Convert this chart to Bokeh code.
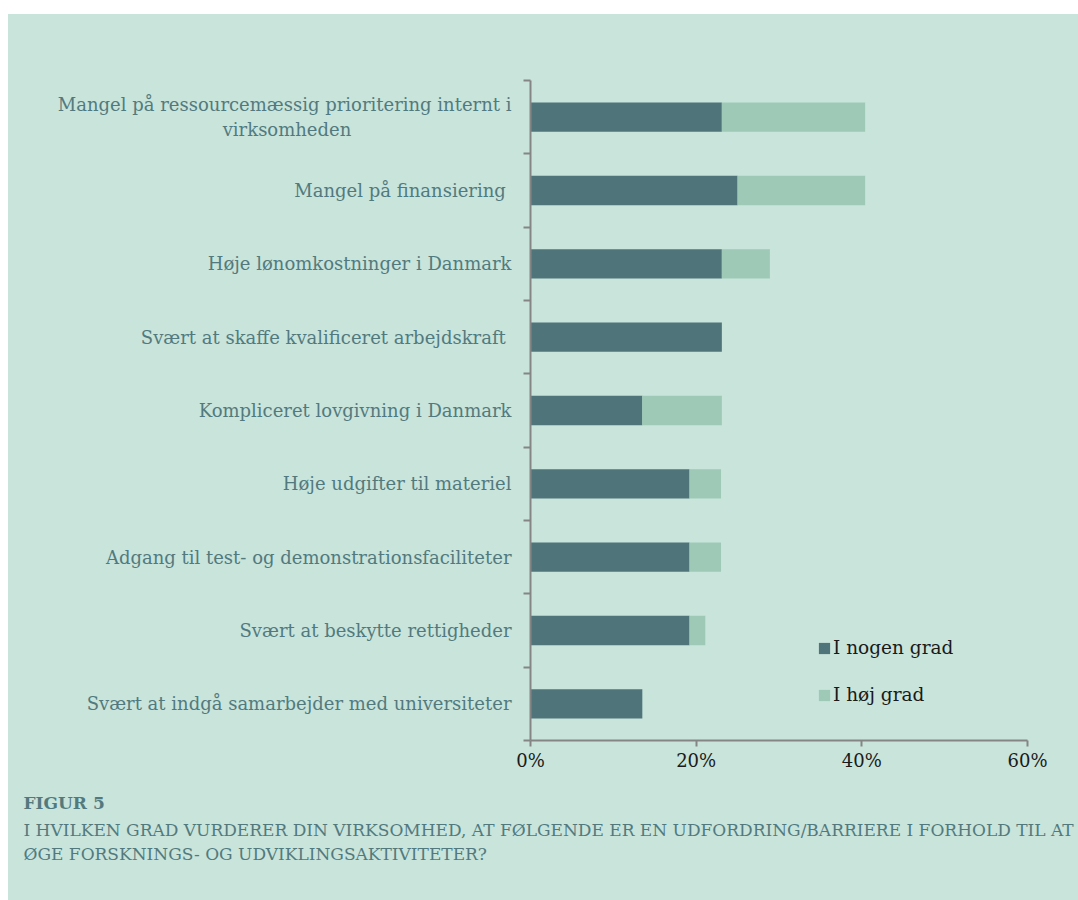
from bokeh.plotting import figure
from bokeh.models import (FixedTicker, PrintfTickFormatter, Legend, LegendItem, Title,
                          Spacer, ColumnDataSource, Range1d)
from bokeh.layouts import column, row
from bokeh.embed import file_html
from bokeh.resources import INLINE

# ---- data ----
categories = [
    "Mangel på ressourcemæssig prioritering internt i\nvirksomheden",
    "Mangel på finansiering ",
    "Høje lønomkostninger i Danmark",
    "Svært at skaffe kvalificeret arbejdskraft ",
    "Kompliceret lovgivning i Danmark",
    "Høje udgifter til materiel",
    "Adgang til test- og demonstrationsfaciliteter",
    "Svært at beskytte rettigheder",
    "Svært at indgå samarbejder med universiteter",
]
i_nogen_grad = [23.1, 25.0, 23.1, 23.1, 13.5, 19.2, 19.2, 19.2, 13.5]
i_hoej_grad = [17.3, 15.4, 5.8, 0.0, 9.6, 3.8, 3.8, 1.9, 0.0]
series_names = ["I nogen grad", "I høj grad"]
x_ticks = [0, 20, 40, 60]
figure_title = "FIGUR 5"
subtitle_lines = [
    "I HVILKEN GRAD VURDERER DIN VIRKSOMHED, AT FØLGENDE ER EN UDFORDRING/BARRIERE I FORHOLD TIL AT",
    "ØGE FORSKNINGS- OG UDVIKLINGSAKTIVITETER?",
]

# ---- style ----
BG = "#c8e4db"
DARK = "#4f747a"
LIGHT = "#9ec9b6"
AXIS = "#858585"
TEXT_TEAL = "#527a7e"
FONT = "DejaVu Serif"


def centred(label, pad=28):
    # second line of a wrapped label is centred under the first one
    if "\n" in label:
        a, b = label.split("\n", 1)
        return a + "\n" + b + " " * pad
    return label


n = len(categories)
ypos = [n - 1 - i for i in range(n)]
source = ColumnDataSource(dict(y=ypos, nogen=i_nogen_grad, hoej=i_hoej_grad))

W, H = 1070, 886
p = figure(width=W, height=H, output_backend="svg", toolbar_location=None,
           x_range=Range1d(0, 60), y_range=Range1d(-0.5, n - 0.5),
           min_border_left=522, min_border_right=51, min_border_top=66,
           min_border_bottom=160)
p.styles = {"background-color": BG}
p.background_fill_color = None
p.border_fill_color = BG
p.outline_line_color = None
p.grid.grid_line_color = None

rs = p.hbar_stack(["nogen", "hoej"], y="y", height=0.4, color=[DARK, LIGHT],
                  line_color=None, source=source)

legend = Legend(items=[LegendItem(label=series_names[0], renderers=[rs[0]]),
                       LegendItem(label=series_names[1], renderers=[rs[1]])],
                location=(287, 35), orientation="vertical")
legend.background_fill_alpha = 0
legend.border_line_color = None
legend.padding = 0
legend.margin = 0
legend.spacing = 26
legend.glyph_width = 14
legend.glyph_height = 14
legend.label_standoff = 2
legend.label_text_font = FONT
legend.label_text_font_size = "18.5px"
legend.label_text_color = "#1a1a1a"
p.add_layout(legend)

# y axis: labels at category centres, small ticks at category boundaries
ya = p.yaxis[0]
ya.ticker = FixedTicker(ticks=ypos, minor_ticks=[b - 0.5 for b in range(n + 1)])
ya.major_label_overrides = {y: centred(c) for y, c in zip(ypos, categories)}
ya.major_tick_line_color = None
ya.major_tick_out = 0
ya.major_tick_in = 0
ya.minor_tick_line_color = AXIS
ya.minor_tick_line_width = 2
ya.minor_tick_out = 7
ya.minor_tick_in = 0
ya.axis_line_color = AXIS
ya.axis_line_width = 2
ya.major_label_standoff = 12
ya.major_label_text_font = FONT
ya.major_label_text_font_size = "18px"
ya.major_label_text_color = TEXT_TEAL

xa = p.xaxis[0]
xa.ticker = FixedTicker(ticks=x_ticks)
xa.formatter = PrintfTickFormatter(format="%d%%")
xa.axis_line_color = AXIS
xa.axis_line_width = 2
xa.major_tick_line_color = AXIS
xa.major_tick_line_width = 2
xa.major_tick_out = 6
xa.major_tick_in = 0
xa.major_label_standoff = 3
xa.major_label_text_font = FONT
xa.major_label_text_font_size = "18px"
xa.major_label_text_color = "#1a1a1a"

off = 24 - 8 - 522 - 1
# empty spacer between the axis and the caption
p.add_layout(Title(text=" ", text_font_size="1px", standoff=10), "below")
p.add_layout(Title(text=figure_title, align="left", offset=off, standoff=8,
                   text_font=FONT, text_font_size="17px", text_font_style="bold",
                   text_color=TEXT_TEAL), "below")
for line in subtitle_lines:
    p.add_layout(Title(text=line, align="left", offset=off, standoff=2,
                       text_font=FONT, text_font_size="17px", text_font_style="normal",
                       text_color=TEXT_TEAL), "below")

layout = row(Spacer(width=8, height=H + 14), column(Spacer(width=W, height=14), p))
open("out.html", "w").write(file_html(layout, INLINE))
